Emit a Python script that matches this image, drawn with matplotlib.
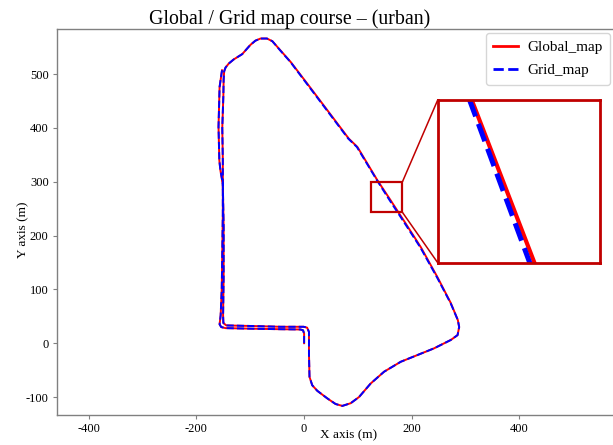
import matplotlib
matplotlib.use("Agg")
import matplotlib.pyplot as plt
from matplotlib.patches import Rectangle, ConnectionPatch

plt.rcParams['font.family'] = ['Liberation Serif', 'DejaVu Serif']
plt.rcParams['axes.unicode_minus'] = False

title = "Global / Grid map course \u2013 (urban)"
x_label = "X axis (m)"
y_label = "Y axis (m)"
series_names = ["Global_map", "Grid_map"]

global_x = [0, 0, -2, -7, -45, -100, -146, -154, -157, -155, -153, -152, -151, -151,
            -151, -152, -150, -149.5, -148.5, -146, -140, -131, -115, -100, -90.5, -81,
            -69, -59, -44, -25, 6, 43, 83, 99, 136, 161, 185, 217, 248, 272.5, 285.5,
            288, 285, 272.5, 241.5, 210.5, 179.5, 148.5, 123.5, 102, 86.5, 71, 58.5, 43,
            24.5, 15, 10, 9, 9, 5.5, -1, -44, -100, -144.5, -150, -150.5, -149.5, -149.5,
            -151, -155.5, -157.5, -159, -157, -152.5]
global_y = [0, 18, 24, 25.5, 26, 27, 28, 30, 35, 52, 100, 170, 240, 300,
            340, 400, 460, 490, 505, 512, 519.5, 527, 537, 554, 562, 566,
            566, 561, 544, 522.5, 482, 433, 380, 364.5, 302.8, 265, 228, 178, 122, 74.5, 43,
            30, 15, 6, -9.5, -22, -34.5, -53, -75, -100, -111.5, -116.5, -113, -102.5,
            -88.5, -78, -62.5, -19, 21, 29, 30.5, 30.5, 32, 33, 37.5, 52, 123, 216,
            296, 321, 340, 402, 476, 507]

grid_x = [0, 0, -2, -7, -45, -100, -146, -154, -157, -155, -153, -152, -151, -151,
          -151, -152, -150, -149.5, -148.5, -146, -140, -131, -115, -100, -90.5, -81,
          -69, -59, -44.5, -25.5, 5, 42, 82, 98, 135.2, 159.2, 183.5, 215.8, 247, 272, 285.5,
          288, 285, 272.5, 241.5, 210.5, 179.5, 148.5, 123.5, 102, 86.5, 71, 58.5, 43,
          24.5, 15, 10, 9, 9, 5.5, -1, -44, -100, -144.5, -150, -150.5, -149.5, -149.5,
          -151, -155.5, -157.5, -159, -157, -152.5]
grid_y = [0, 18, 24, 25.5, 26, 27, 28, 30, 35, 52, 100, 170, 240, 300,
          340, 400, 460, 490, 505, 512, 519.5, 527, 537, 554, 562, 566,
          566, 561, 544, 522.5, 482, 433, 380, 364.5, 302.8, 265, 228, 178, 122, 74.5, 43,
          30, 15, 6, -9.5, -22, -34.5, -53, -75, -100, -111.5, -116.5, -113, -102.5,
          -88.5, -78, -62.5, -19, 21, 29, 30.5, 30.5, 32, 33, 37.5, 52, 123, 216,
          296, 321, 340, 402, 476, 507]

x_ticks = [-400, -200, 0, 200, 400]
y_ticks = [-100, 0, 100, 200, 300, 400, 500]

main_xlim = (-459, 576)
main_ylim = (-133.4, 583.7)
zoom_box_x = (123.6, 182.7)
zoom_box_y = (243, 300)
inset_xlim = (123.6, 182.7)
inset_ylim = (268.3, 302.8)

red = '#ff0000'
blue = '#0000ff'
box_red = '#c00000'
spine_gray = '#808080'

fig = plt.figure(figsize=(6.13, 4.45), dpi=100)
ax = fig.add_axes([57 / 613, 1 - 415 / 445, 1.002 - 57 / 613, (415 - 29) / 445])

ax.plot(global_x, global_y, '-', color=red, lw=1.4, label=series_names[0])
ax.plot(grid_x, grid_y, '--', color=blue, lw=1.4, label=series_names[1])

ax.set_xlim(*main_xlim)
ax.set_ylim(*main_ylim)
ax.set_xticks(x_ticks)
ax.set_yticks(y_ticks)
ax.tick_params(labelsize=9, length=3, width=0.8, color=spine_gray, pad=3)
for s in ax.spines.values():
    s.set_color(spine_gray)
    s.set_linewidth(1.0)

ax.set_title(title, fontsize=14.3, x=0.417, pad=3.0)
ax.set_xlabel(x_label, fontsize=9.5)
ax.set_ylabel(y_label, fontsize=9.5)
ax.xaxis.set_label_coords(0.523, -0.036)
ax.xaxis.label.set_va('top')
ax.yaxis.set_label_coords(-0.05, 0.48)

leg = ax.legend(loc='upper right', fontsize=11, handlelength=1.6, borderaxespad=0.27,
                handletextpad=0.6, labelspacing=0.6, borderpad=0.5)
for ln in leg.get_lines():
    ln.set_linewidth(2.0)

# zoom window on the main axes
rect = Rectangle((zoom_box_x[0], zoom_box_y[0]), zoom_box_x[1] - zoom_box_x[0],
                 zoom_box_y[1] - zoom_box_y[0], fill=False, edgecolor=box_red, lw=1.6, zorder=5)
ax.add_patch(rect)

# inset axes
axins = fig.add_axes([437.7 / 613, 1 - 262.7 / 445, 162.3 / 613, 162.7 / 445])
axins.plot(global_x, global_y, '-', color=red, lw=3.0)
axins.plot(grid_x, grid_y, '--', color=blue, lw=3.6)
axins.set_xlim(*inset_xlim)
axins.set_ylim(*inset_ylim)
axins.set_xticks([])
axins.set_yticks([])
for s in axins.spines.values():
    s.set_color(box_red)
    s.set_linewidth(2.0)

con1 = ConnectionPatch(xyA=(zoom_box_x[1], zoom_box_y[1]), coordsA=ax.transData,
                       xyB=(0, 1), coordsB=axins.transAxes, color=box_red, lw=1.1)
con2 = ConnectionPatch(xyA=(zoom_box_x[1], zoom_box_y[0]), coordsA=ax.transData,
                       xyB=(0, 0), coordsB=axins.transAxes, color=box_red, lw=1.1)
fig.add_artist(con1)
fig.add_artist(con2)

fig.savefig('out.png', dpi=100)
